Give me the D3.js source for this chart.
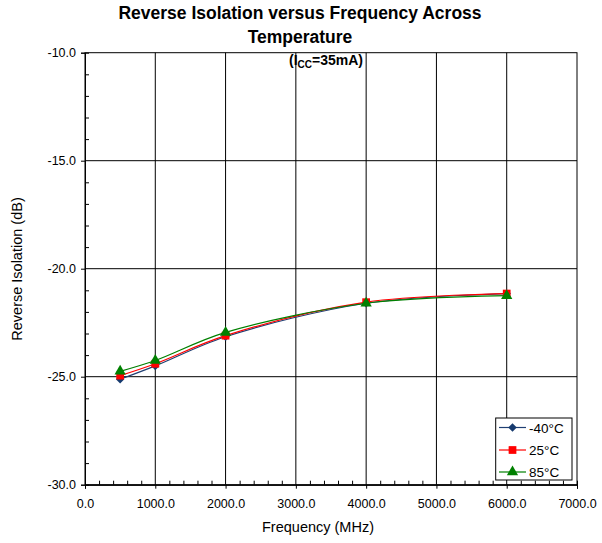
<!DOCTYPE html>
<html><head><meta charset="utf-8">
<script src="https://cdn.jsdelivr.net/npm/d3@7"></script>
<style>body{margin:0;background:#fff}text{font-family:"Liberation Sans",Arial,sans-serif}</style>
</head><body><svg id="c" width="602" height="543"></svg>
<script>
const freq = [500, 1000, 2000, 4000, 6000];
const seriesNames = ["-40\u00B0C", "25\u00B0C", "85\u00B0C"];
const sM40 = [-25.12, -24.5, -23.15, -21.6, -21.15];
const s25  = [-24.95, -24.4, -23.1, -21.55, -21.15];
const s85  = [-24.75, -24.25, -22.95, -21.6, -21.25];
const xTicks = [0, 1000, 2000, 3000, 4000, 5000, 6000, 7000];
const yTicks = [-30, -25, -20, -15, -10];

const colors = ["#1F3F73", "#FF0000", "#008000"];
const markerColors = ["#163A6E", "#FF0000", "#008000"];
const symbols = [d3.symbolSquare, d3.symbolSquare, d3.symbolTriangle];
const rot = [45, 0, 0];
const symSize = [36, 60, 55];
const allSeries = [sM40, s25, s85];
const fmt = d => d.toFixed(1);

const svg = d3.select("#c");
const L = 85, R = 577, T = 52.7, B = 484.7;
const x = d3.scaleLinear().domain([0, 7000]).range([L, R]);
const y = d3.scaleLinear().domain([-30, -10]).range([B, T]);

const g = svg.append("g");
g.selectAll("line.vg").data(xTicks.slice(1, -1)).enter().append("line")
  .attr("x1", d => x(d)).attr("x2", d => x(d)).attr("y1", T).attr("y2", B)
  .attr("stroke", "#000").attr("stroke-width", 1);
g.selectAll("line.hg").data(yTicks.slice(1, -1)).enter().append("line")
  .attr("x1", L).attr("x2", R).attr("y1", d => y(d)).attr("y2", d => y(d))
  .attr("stroke", "#000").attr("stroke-width", 1);
svg.append("rect").attr("x", L).attr("y", T).attr("width", R - L).attr("height", B - T)
  .attr("fill", "none").attr("stroke", "#000").attr("stroke-width", 1);

const xAxis = svg.append("g").attr("transform", `translate(0,${B})`)
  .call(d3.axisBottom(x).tickValues(xTicks).tickFormat(fmt).tickSize(4).tickPadding(10));
const xMinor = svg.append("g").attr("transform", `translate(0,${B})`)
  .call(d3.axisTop(x).tickValues(d3.range(0, 7001, 200).filter(v => v % 1000 !== 0)).tickFormat("").tickSize(4));
const yAxis = svg.append("g").attr("transform", `translate(${L},0)`)
  .call(d3.axisLeft(y).tickValues(yTicks).tickFormat(fmt).tickSize(4).tickPadding(5));
const yMinor = svg.append("g").attr("transform", `translate(${L},0)`)
  .call(d3.axisRight(y).tickValues(d3.range(-29, -10, 1).filter(v => v % 5 !== 0)).tickFormat("").tickSize(4));
[xAxis, xMinor, yAxis, yMinor].forEach(a => {
  a.attr("font-family", null);
  a.select(".domain").attr("stroke", "#000");
  a.selectAll("line").attr("stroke", "#000");
  a.selectAll("text").attr("font-size", 12.5).attr("fill", "#000");
});

const line = d3.line().x(d => x(d[0])).y(d => y(d[1])).curve(d3.curveCatmullRom.alpha(0.5));
allSeries.forEach((s, i) => {
  const pts = freq.map((f, j) => [f, s[j]]);
  svg.append("path").datum(pts).attr("d", line).attr("fill", "none")
    .attr("stroke", colors[i]).attr("stroke-width", 1.2);
});
allSeries.forEach((s, i) => {
  const pts = freq.map((f, j) => [f, s[j]]);
  svg.selectAll(null).data(pts).enter().append("path")
    .attr("transform", d => `translate(${x(d[0])},${y(d[1])}) rotate(${rot[i]})`)
    .attr("d", d3.symbol().type(symbols[i]).size(symSize[i]))
    .attr("fill", markerColors[i]);
});

const lg = svg.append("g");
lg.append("rect").attr("x", 495.7).attr("y", 418).attr("width", 76.3).attr("height", 62)
  .attr("fill", "#fff").attr("stroke", "#000").attr("stroke-width", 1);
const rowsY = [427.5, 450, 472];
seriesNames.forEach((n, i) => {
  lg.append("line").attr("x1", 499).attr("x2", 526).attr("y1", rowsY[i]).attr("y2", rowsY[i])
    .attr("stroke", colors[i]).attr("stroke-width", 1.2);
  lg.append("path").attr("transform", `translate(512.5,${rowsY[i]}) rotate(${rot[i]})`)
    .attr("d", d3.symbol().type(symbols[i]).size(symSize[i])).attr("fill", markerColors[i]);
  lg.append("text").attr("x", 529).attr("y", rowsY[i] + 5).attr("font-size", 13.5).text(n);
});

svg.append("text").attr("x", 300).attr("y", 19).attr("text-anchor", "middle")
  .attr("font-size", 17.5).attr("font-weight", "bold").text("Reverse Isolation versus Frequency Across");
svg.append("text").attr("x", 300).attr("y", 43).attr("text-anchor", "middle")
  .attr("font-size", 17.5).attr("font-weight", "bold").text("Temperature");
const sub = svg.append("text").attr("x", 326).attr("y", 65).attr("text-anchor", "middle")
  .attr("font-size", 14).attr("font-weight", "bold");
sub.append("tspan").text("(I");
sub.append("tspan").attr("font-size", 10).attr("dy", 3).text("CC");
sub.append("tspan").attr("dy", -3).text("=35mA)");

svg.append("text").attr("x", 318).attr("y", 532).attr("text-anchor", "middle")
  .attr("font-size", 14.5).text("Frequency (MHz)");
svg.append("text").attr("transform", "translate(22,269) rotate(-90)").attr("text-anchor", "middle")
  .attr("font-size", 14.5).text("Reverse Isolation (dB)");
</script></body></html>
